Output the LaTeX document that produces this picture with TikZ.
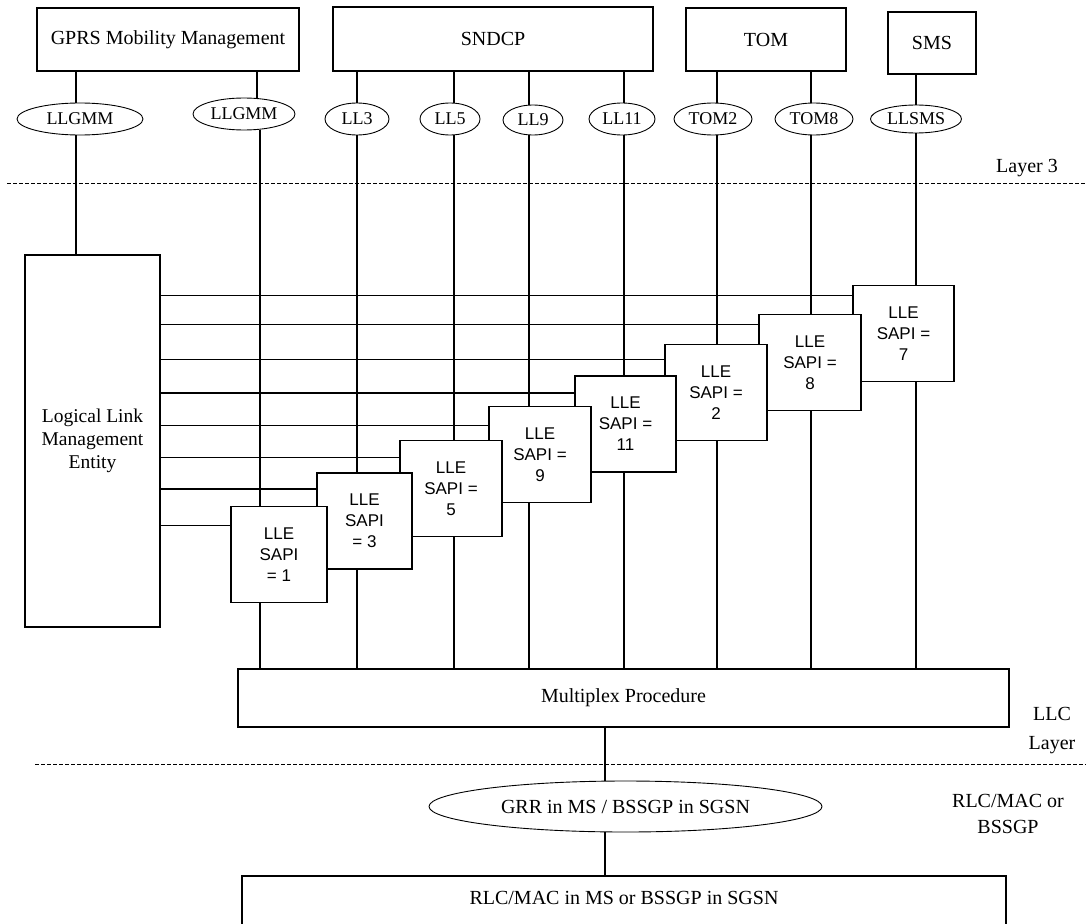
\documentclass[tikz,border=0pt]{standalone}
\usepackage{fontspec}
\setmainfont{Liberation Serif}
\newfontfamily\lsans{Liberation Sans}
\usetikzlibrary{shapes.geometric}
\begin{document}
\begin{tikzpicture}[x=1pt,y=-1pt,
  every node/.style={inner sep=0pt, outer sep=0pt},
  topbox/.style={draw, line width=1.2pt, font=\fontsize{20}{24}\selectfont},
  tag/.style={draw, ellipse, line width=0.9pt, font=\fontsize{18}{20}\selectfont, minimum height=32pt},
  llebox/.style={draw, fill=white, line width=1.2pt, minimum height=96pt, align=center, font=\lsans\fontsize{17}{21}\selectfont},
  wire/.style={line width=1.2pt},
  layerline/.style={line width=1pt, dash pattern=on 4pt off 2pt},
  note/.style={align=center}]
\useasboundingbox (0,0) rectangle (1086,923);

% top boxes
\node[topbox, minimum width=262pt, minimum height=63pt] (gprs) at (168,39.5) {GPRS Mobility Management};
\node[topbox, minimum width=320pt, minimum height=64pt] (sndcp) at (493,39) {SNDCP};
\node[topbox, minimum width=160pt, minimum height=63pt] (tom) at (766,39.5) {TOM};
\node[topbox, minimum width=88pt, minimum height=62pt] (sms) at (932,43) {SMS};

% ellipses
\node[tag, minimum width=126pt] (llgmma) at (80,119) {LLGMM};
\node[tag, minimum width=102pt] (llgmmb) at (244,114) {LLGMM};
\node[tag, minimum width=64pt] (ll3) at (357,119) {LL3};
\node[tag, minimum width=60pt] (ll5) at (450,119) {LL5};
\node[tag, minimum width=60pt, minimum height=30pt] (ll9) at (533,120) {LL9};
\node[tag, minimum width=66pt] (ll11) at (622,119) {LL11};
\node[tag, minimum width=78pt] (tom2) at (713,119) {TOM2};
\node[tag, minimum width=78pt] (tom8) at (814,119) {TOM8};
\node[tag, minimum width=91pt, minimum height=28pt] (llsms) at (916,119) {LLSMS};

% layer lines and labels
\draw[layerline] (7,183) -- (1086,183);
\draw[layerline] (35,764) -- (1086,764);
\node[font=\fontsize{20}{24}\selectfont] (l3) at (1027,168) {Layer 3};
\node[note, font=\fontsize{20}{29}\selectfont] (llcl) at (1052,731) {LLC\\Layer};
\node[note, font=\fontsize{20}{26}\selectfont] (rlcl) at (1008,814) {RLC/MAC or\\BSSGP};

% LLME
\node[draw, line width=1.2pt, minimum width=135pt, minimum height=372pt, align=center,
      font=\fontsize{19.5}{23}\selectfont] (llme) at (92.5,441) {Logical Link\\Management\\Entity};

% LLE boxes, back to front
\node[llebox, minimum width=101pt] (lle7) at (903.5,333.5) {LLE\\SAPI =\\7};
\node[llebox, minimum width=102pt] (lle8) at (810,362.5) {LLE\\SAPI =\\8};
\node[llebox, minimum width=102pt] (lle2) at (716,392.5) {LLE\\SAPI =\\2};
\node[llebox, minimum width=101pt] (lle11) at (625.5,424) {LLE\\SAPI =\\11};
\node[llebox, minimum width=102pt] (lle9) at (540,454.5) {LLE\\SAPI =\\9};
\node[llebox, minimum width=102pt] (lle5) at (451,488.5) {LLE\\SAPI =\\5};
\node[llebox, minimum width=95pt] (lle3) at (364.5,521) {LLE\\SAPI\\= 3};
\node[llebox, minimum width=96pt] (lle1) at (279,554.5) {LLE\\SAPI\\= 1};

% multiplex, GRR, RLC
\node[draw, line width=1.2pt, minimum width=771pt, minimum height=58pt, font=\fontsize{20}{24}\selectfont] (mux) at (623.5,698) {Multiplex Procedure};
\node[draw, ellipse, line width=0.9pt, minimum width=393pt, minimum height=51pt, font=\fontsize{20}{24}\selectfont] (grr) at (625.5,806.5) {GRR in MS / BSSGP in SGSN};
\node[draw, line width=1.2pt, minimum width=764pt, minimum height=70pt, anchor=north,
      label={[anchor=center, yshift=-22pt, font=\fontsize{20}{24}\selectfont]north:RLC/MAC in MS or BSSGP in SGSN}] (rlc) at (624,876) {};

% x positions of vertical wires
\coordinate (va) at (76,0);
\coordinate (vb) at (257,0);
\coordinate (vc) at (260,0);
\coordinate (vm) at (605,0);

% GMM wires
\draw[wire] (gprs.south -| va) -- (llgmma.north -| va);
\draw[wire] (llgmma.south -| va) -- (llme.north -| va);
\draw[wire] (gprs.south -| vb) -- (llgmmb.north -| vb);
\draw[wire] (llgmmb.south -| vc) -- (lle1.north -| vc);
\draw[wire] (lle1.south -| vc) -- (mux.north -| vc);

% other SAP wires
\foreach \e/\b/\t/\x in {ll3/lle3/sndcp/357, ll5/lle5/sndcp/454, ll9/lle9/sndcp/529, ll11/lle11/sndcp/624,
                        tom2/lle2/tom/717, tom8/lle8/tom/811, llsms/lle7/sms/916}{
  \coordinate (vx) at (\x,0);
  \draw[wire] (\t.south -| vx) -- (\e.north -| vx);
  \draw[wire] (\e.south -| vx) -- (\b.north -| vx);
  \draw[wire] (\b.south -| vx) -- (mux.north -| vx);
}

% horizontal wires from LLME
\foreach \b/\d in {lle7/10, lle8/10, lle2/15, lle11/17, lle9/19, lle5/17, lle3/16, lle1/19}{
  \path ([yshift=-\d pt]\b.north west) coordinate (hy);
  \draw[wire] (hy) -- (hy -| llme.east);
}

% lower wires
\draw[wire] (mux.south -| vm) -- (grr.north -| vm);
\draw[wire] (grr.south -| vm) -- (rlc.north -| vm);
\end{tikzpicture}
\end{document}
